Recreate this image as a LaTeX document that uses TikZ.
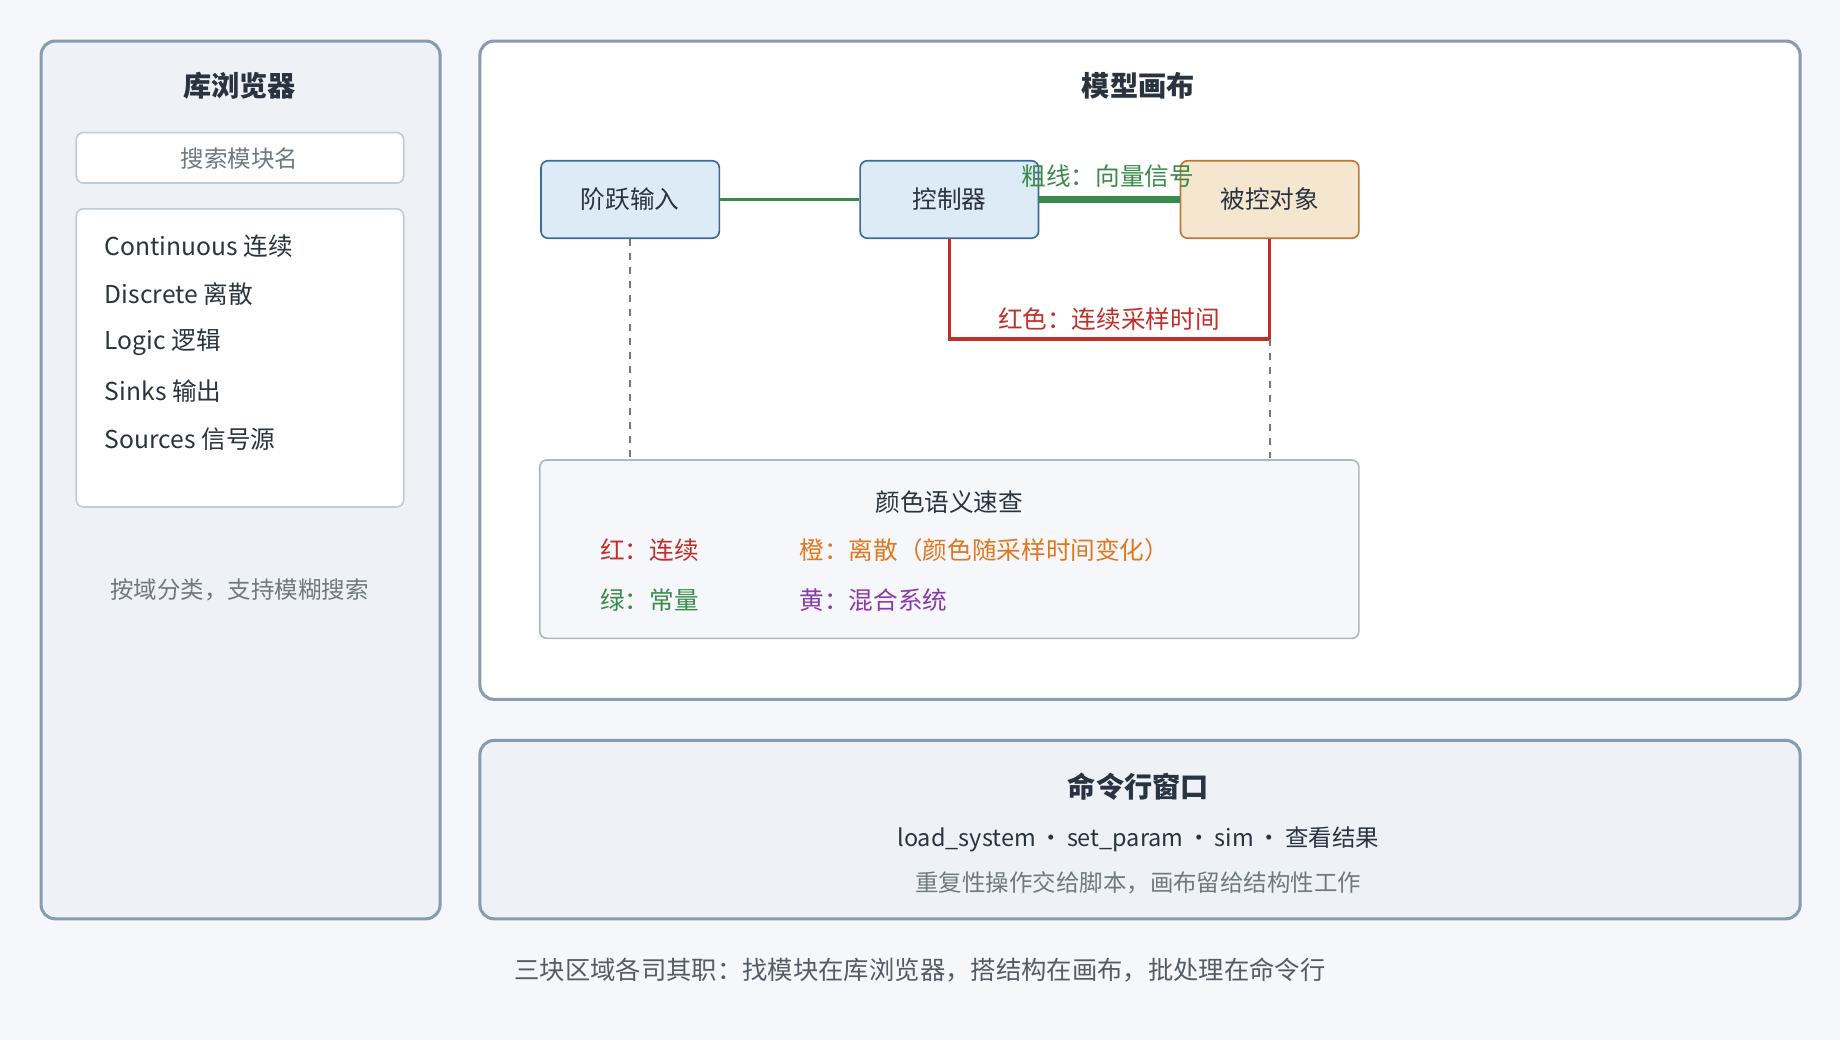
\documentclass[tikz,border=0pt]{standalone}
\usepackage{fontspec}
\setmainfont{Noto Sans CJK SC}
\usetikzlibrary{positioning}
\definecolor{pageBg}{HTML}{F5F7FA}
\definecolor{panelBg}{HTML}{EEF2F7}
\definecolor{panelLine}{HTML}{8A9BB0}
\definecolor{boxLine}{HTML}{C3CCD6}
\definecolor{blockBlue}{HTML}{DCEBF5}
\definecolor{blockBlueLine}{HTML}{3A6B9A}
\definecolor{blockTan}{HTML}{F5E6D0}
\definecolor{blockTanLine}{HTML}{B87A3A}
\definecolor{sigGreen}{HTML}{3A8A4A}
\definecolor{sigRed}{HTML}{C0302A}
\definecolor{sigOrange}{HTML}{E07820}
\definecolor{sigPurple}{HTML}{8A3AAA}
\definecolor{textDark}{HTML}{2A3340}
\definecolor{textGray}{HTML}{707880}
\tikzset{
  panel/.style={draw=panelLine, line width=1.3pt, rounded corners=6pt, fill=panelBg},
  box/.style={draw=boxLine, line width=0.7pt, rounded corners=3pt, fill=white},
  title/.style={font=\bfseries\fontsize{12}{14}\selectfont, text=textDark},
  body/.style={font=\fontsize{10.5}{12}\selectfont, text=textDark},
  note/.style={font=\fontsize{10}{12}\selectfont, text=textGray},
  block/.style={draw=blockBlueLine, fill=blockBlue, line width=0.7pt, rounded corners=3pt,
    minimum width=76pt, minimum height=33pt, font=\fontsize{10.5}{12}\selectfont, text=textDark},
}
\begin{document}
\begin{tikzpicture}[x=0.5pt, y=-0.5pt]
    % page
    \fill[pageBg] (0,0) rectangle (1568,886);
    \useasboundingbox (0,0) rectangle (1568,886);

    % library browser
    \draw[panel] (35,35) rectangle (375,783);
    \node[title] (libTitle) at (204,73) {库浏览器};
    \draw[box] (65,113) rectangle (344,156);
    \node[note] (searchText) at (204,135) {搜索模块名};
    \draw[box] (65,178) rectangle (344,432);
    \foreach \name [count=\i] in {Continuous 连续, Discrete 离散, Logic 逻辑, Sinks 输出, Sources 信号源}
        \node[body, anchor=west, inner xsep=0pt] (lib\i) at (89,169+41*\i) {\name};
    \node[note] (libNote) at (204,503) {按域分类，支持模糊搜索};

    % model canvas
    \draw[panel, fill=white] (409,35) rectangle (1534,596);
    \node[title] (canvasTitle) at (970,73) {模型画布};
    \node[block] (stepIn) at (537,170) {阶跃输入};
    \node[block] (ctrl) at (809,170) {控制器};
    \node[block, draw=blockTanLine, fill=blockTan] (plant) at (1082,170) {被控对象};

    % signals
    \draw[sigGreen, line width=1.5pt] (stepIn) -- (ctrl);
    \draw[sigGreen, line width=2.6pt] (ctrl) -- (plant);
    \node[body, text=sigGreen] (vecLabel) at (944,150) {粗线：向量信号};
    \coordinate (redLeft) at (809,289);
    \coordinate (redRight) at (1082,289);
    \draw[sigRed, line width=1.5pt] (ctrl.south) -- (redLeft) -- (redRight) -- (plant.south);
    \node[body, text=sigRed] (redLabel) at (945,272) {红色：连续采样时间};

    % legend
    \coordinate (dashLeft) at (537,390);
    \coordinate (dashRight) at (1082,390);
    \draw[textGray, dashed, line width=1pt] (stepIn.south) -- (dashLeft);
    \draw[textGray, dashed, line width=1pt] (redRight) -- (dashRight);
    \draw[box, fill=pageBg, draw=boxLine!90!black] (460,392) rectangle (1158,544);
    \node[body] (legendTitle) at (809,428) {颜色语义速查};
    \node[body, anchor=west, inner xsep=0pt, text=sigRed] (legRed) at (511,469) {红：连续};
    \node[body, anchor=west, inner xsep=0pt, text=sigOrange] (legOrange) at (681,469) {橙：离散（颜色随采样时间变化）};
    \node[body, anchor=west, inner xsep=0pt, text=sigGreen] (legGreen) at (511,511) {绿：常量};
    \node[body, anchor=west, inner xsep=0pt, text=sigPurple] (legPurple) at (681,511) {黄：混合系统};

    % command window
    \draw[panel] (409,631) rectangle (1534,783);
    \node[title] (cmdTitle) at (970,670) {命令行窗口};
    \node[body, font=\fontsize{10}{12}\selectfont] (cmdLine) at (970,715) {load\_system\,·\,set\_param\,·\,sim\,·\,查看结果};
    \node[note] (cmdNote) at (970,752) {重复性操作交给脚本，画布留给结构性工作};

    % caption
    \node[body, font=\fontsize{10.8}{12}\selectfont, text=textDark!80] (caption) at (784,827) {三块区域各司其职：找模块在库浏览器，搭结构在画布，批处理在命令行};
\end{tikzpicture}
\end{document}
